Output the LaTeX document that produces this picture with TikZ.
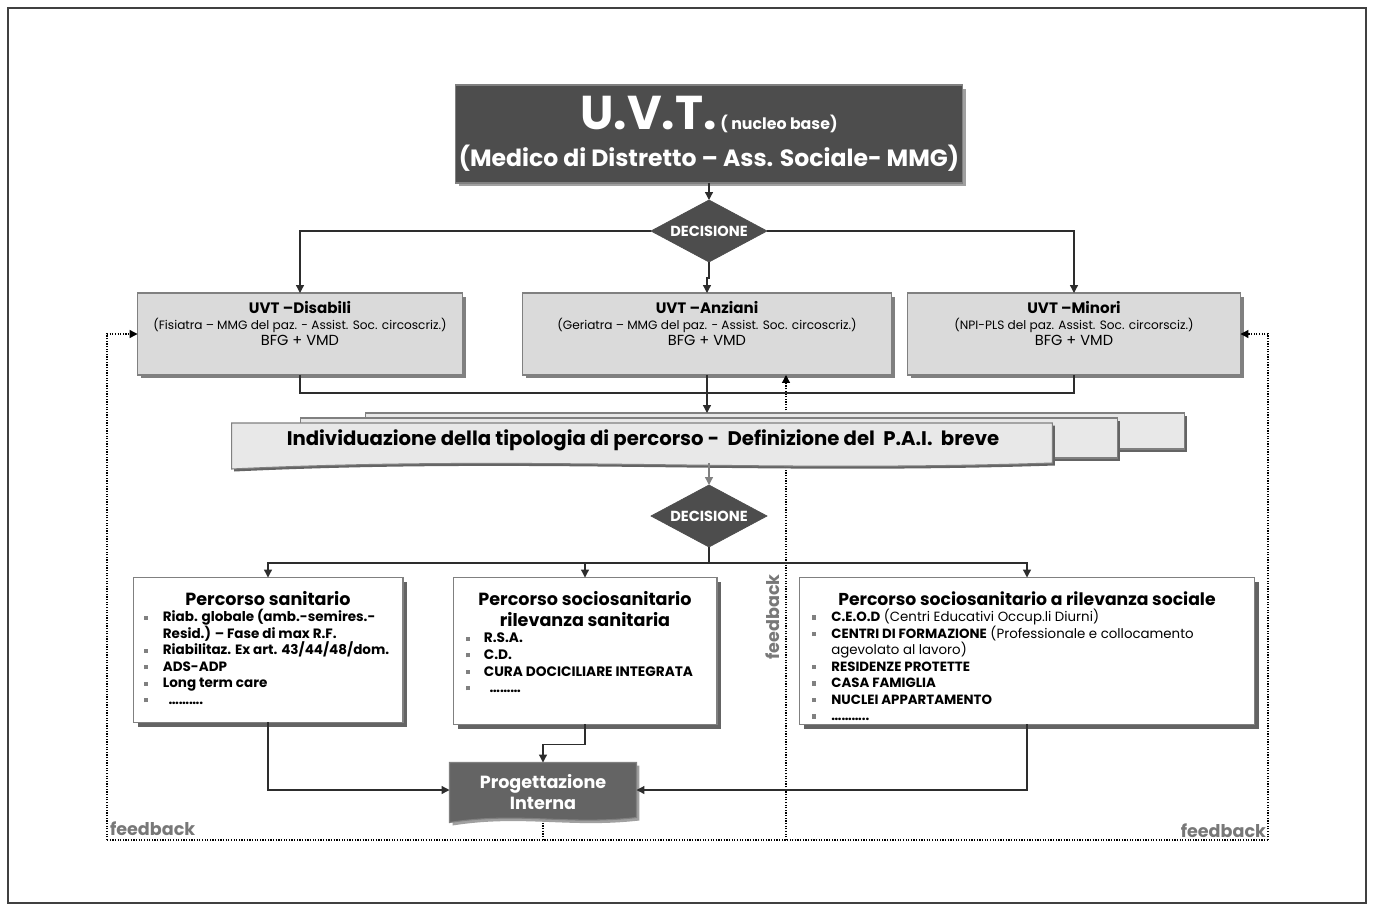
\documentclass[tikz,border=0pt]{standalone}
\usepackage{fontspec}
\setmainfont{Poppins}
\usepackage{xcolor}
\definecolor{darkfill}{RGB}{77, 77, 77}
\definecolor{progfill}{RGB}{100, 100, 100}
\definecolor{lightfill}{RGB}{218, 218, 218}
\definecolor{bannerfill}{RGB}{232, 232, 232}
\definecolor{edgegray}{RGB}{128, 128, 128}
\definecolor{shadowgray}{RGB}{100, 100, 100}
\definecolor{lightshadow}{RGB}{160, 160, 160}
\definecolor{linegray}{RGB}{45, 45, 45}
\definecolor{fbgray}{RGB}{120, 120, 120}
\usepackage{tikz}
\usetikzlibrary{calc,shapes.geometric,shadows,arrows.meta}

% small grey square before each list entry
\newcommand\pitem[2]{\par\noindent\hangindent=#1\hangafter=1%
  \makebox[#1][l]{\textcolor{edgegray}{\rule[0.15em]{2.4pt}{2.4pt}}}#2}

\begin{document}
\begin{tikzpicture}[
  x = 0.02cm, y = -0.02cm,
  every node/.style = {inner sep=0pt, outer sep=0pt},
  conn/.style  = {draw=linegray, line width=0.7pt},
  arr/.style   = {conn, -{Triangle[length=4.5pt, width=4.5pt]}},
  fb/.style    = {draw=black, line width=0.7pt, dash pattern=on 0.7pt off 0.8pt},
  fbarr/.style = {fb, -{Triangle[length=4.5pt, width=4.5pt]}},
  fbtext/.style = {text=fbgray, font=\bfseries\fontsize{10}{12}\selectfont},
  uvtbox/.style = {
    fill        = darkfill,
    draw        = edgegray,
    line width  = 0.6pt,
    text        = white,
    font        = \bfseries,
    align       = center,
    general shadow = {fill=lightshadow, shadow xshift=0.07cm, shadow yshift=-0.07cm}
  },
  decision/.style = {
    diamond,
    aspect      = 1.9,
    fill        = darkfill,
    draw        = darkfill,
    text        = white,
    font        = \bfseries\fontsize{8.3}{9}\selectfont,
    minimum width  = 2.32cm,
    minimum height = 1.24cm
  },
  greybox/.style = {
    fill        = lightfill,
    draw        = edgegray,
    line width  = 0.6pt,
    minimum height = 1.64cm,
    general shadow = {fill=edgegray, shadow xshift=0.07cm, shadow yshift=-0.07cm}
  },
  whitebox/.style = {
    fill        = white,
    draw        = edgegray,
    line width  = 0.6pt,
    general shadow = {fill=shadowgray, shadow xshift=0.09cm, shadow yshift=-0.09cm}
  },
  banner/.style = {
    fill        = bannerfill,
    draw        = edgegray,
    line width  = 0.6pt,
    general shadow = {fill=shadowgray, shadow xshift=0.05cm, shadow yshift=-0.05cm}
  }
]
  \useasboundingbox (0,0) rectangle (1373,910);
  \draw[edgegray!50!black, line width=1pt] (8,8) rectangle (1366,903);

  % top: U.V.T. and first decision
  \node[uvtbox, minimum width=10.16cm, minimum height=1.96cm] (uvt) at (709,134)
    {{\fontsize{27}{28}\selectfont U.V.T.} {\fontsize{9}{10}\selectfont ( nucleo base)}\\[6pt]
     {\fontsize{13.4}{15}\selectfont (Medico di Distretto – Ass. Sociale- MMG)}};
  \node[decision] (dec1) at (709,231) {DECISIONE};

  % the three UVT
  \node[greybox, minimum width=6.5cm] (dis) at (300,334)
    {\parbox[c][1.5cm][t]{6.4cm}{\centering\fontsize{8}{9.3}\selectfont\vspace{2.5pt}
      {\bfseries\fontsize{8.6}{9}\selectfont UVT –Disabili}\\
      {\fontsize{6.9}{8}\selectfont (Fisiatra – MMG del paz. - Assist. Soc. circoscriz.)}\\
      {\fontsize{8.3}{9}\selectfont BFG + VMD}}};
  \node[greybox, minimum width=7.4cm] (anz) at (707,334)
    {\parbox[c][1.5cm][t]{7.2cm}{\centering\fontsize{8}{9.3}\selectfont\vspace{2.5pt}
      {\bfseries\fontsize{8.6}{9}\selectfont UVT –Anziani}\\
      {\fontsize{6.9}{8}\selectfont (Geriatra – MMG del paz. - Assist. Soc. circoscriz.)}\\
      {\fontsize{8.3}{9}\selectfont BFG + VMD}}};
  \node[greybox, minimum width=6.66cm] (min) at (1074,334)
    {\parbox[c][1.5cm][t]{6.4cm}{\centering\fontsize{8}{9.3}\selectfont\vspace{2.5pt}
      {\bfseries\fontsize{8.6}{9}\selectfont UVT –Minori}\\
      {\fontsize{6.9}{8}\selectfont (NPI-PLS del paz. Assist. Soc. circorsciz.)}\\
      {\fontsize{8.3}{9}\selectfont BFG + VMD}}};

  \draw[arr] (uvt.south) -- (dec1.north);
  \draw[arr] (dec1.west) -| (dis.north);
  \draw[arr] (dec1.east) -| (min.north);
  \draw[arr] (dec1.south) -- ++(0,16) -| (anz.north);

  % feedback loop (behind everything else)
  \coordinate (fbl) at (107,840);
  \coordinate (fbr) at (1268,840);
  \coordinate (fbm) at (786,840);
  \draw[fb] (fbl) -- (fbr);
  \draw[fbarr] (fbl) |- (dis.west);
  \draw[fbarr] (fbr) |- (min.east);
  \draw[fbarr] (fbm) -- (fbm |- anz.south);

  % P.A.I. banners
  \node[banner, minimum width=16.4cm, minimum height=0.72cm] (paiback) at (775,431) {};
  \node[banner, minimum width=16.36cm, minimum height=0.8cm] (paimid) at (709,438) {};
  \node[minimum width=16.42cm, minimum height=0.8cm] (pai) at (642,443) {};
  \path[banner] (pai.north west) -- (pai.north east) -- (pai.south east)
    .. controls ($(pai.south east)+(-300,10)$) and ($(pai.south west)+(300,-8)$)
    .. ($(pai.south west)+(0,6)$) -- cycle;
  \node[font=\bfseries\fontsize{11.2}{13}\selectfont] (paitext) at (643,440)
    {Individuazione della tipologia di percorso -~ Definizione del~ P.A.I.~ breve};

  \coordinate (join1) at (707,393);
  \draw[conn] (dis.south) |- (join1) -| (min.south);
  \draw[conn] (anz.south) -- (join1);
  \draw[arr] (join1) -- (join1 |- paiback.north);

  % second decision and the three paths
  \node[decision] (dec2) at (709,516) {DECISIONE};
  \draw[arr, draw=edgegray] (dec2.north |- pai.south) -- (dec2.north);

  \node[whitebox, minimum width=5.4cm, minimum height=2.9cm] (ps) at (268,650)
    {\parbox[c][2.7cm][t]{4.98cm}{\centering\vspace{5pt}
      {\bfseries\fontsize{10}{11}\selectfont Percorso sanitario}\par
      \raggedright\bfseries\fontsize{7.7}{9.4}\selectfont
      \pitem{11pt}{Riab. globale (amb.-semires.-\newline Resid.) – Fase di max R.F.}
      \pitem{11pt}{Riabilitaz. Ex art. 43/44/48/dom.}
      \pitem{11pt}{ADS-ADP}
      \pitem{11pt}{Long term care}
      \pitem{11pt}{\ \ ……….}}};
  \node[whitebox, minimum width=5.28cm, minimum height=2.94cm] (pss) at (585,651)
    {\parbox[c][2.74cm][t]{4.75cm}{\centering\vspace{5pt}
      {\bfseries\fontsize{10}{11}\selectfont Percorso sociosanitario\\ rilevanza sanitaria}\par
      \raggedright\bfseries\fontsize{7.8}{9.4}\selectfont
      \pitem{10pt}{R.S.A.}
      \pitem{10pt}{C.D.}
      \pitem{10pt}{CURA DOCICILIARE INTEGRATA}
      \pitem{10pt}{\ \ ………}}};
  \node[whitebox, minimum width=9.1cm, minimum height=2.94cm] (psr) at (1027,651)
    {\parbox[c][2.74cm][t]{8.6cm}{\centering\vspace{5pt}
      {\bfseries\fontsize{9.8}{11}\selectfont Percorso sociosanitario a rilevanza sociale}\par
      \raggedright\fontsize{7.6}{9.4}\selectfont
      \pitem{11pt}{\textbf{C.E.O.D} (Centri Educativi Occup.li Diurni)}
      \pitem{11pt}{\textbf{CENTRI DI FORMAZIONE} (Professionale e collocamento\newline agevolato al lavoro)}
      \pitem{11pt}{\textbf{RESIDENZE PROTETTE}}
      \pitem{11pt}{\textbf{CASA FAMIGLIA}}
      \pitem{11pt}{\textbf{NUCLEI APPARTAMENTO}}
      \pitem{11pt}{\textbf{………..}}}};

  \coordinate (join2) at (709,563);
  \draw[conn] (dec2.south) -- (join2);
  \draw[arr] (join2) -| (ps.north);
  \draw[arr] (join2) -| (psr.north);
  \draw[arr] (pss.north |- join2) -- (pss.north);

  % Progettazione Interna
  \node[minimum width=3.74cm, minimum height=1.1cm] (prog) at (543,790) {};
  \draw[fb] (prog.south) -- (prog.south |- fbl);
  \path[fill=progfill, draw=edgegray, line width=0.6pt,
        general shadow={fill=lightshadow, shadow xshift=0.06cm, shadow yshift=-0.06cm}]
    (prog.north west) -- (prog.north east) -- (prog.south east)
    .. controls ($(prog.south east)+(-70,8)$) and ($(prog.south west)+(70,-6)$)
    .. ($(prog.south west)+(0,5)$) -- cycle;
  \node[text=white, align=center, font=\bfseries\fontsize{10}{12}\selectfont] (progtext) at (543,792)
    {Progettazione\\ Interna};

  \draw[arr] (ps.south) |- (prog.west);
  \draw[arr] (psr.south) |- (prog.east);
  \draw[arr] (pss.south) -- ++(0,20) -| (prog.north);

  % feedback labels
  \node[fbtext, anchor=south west] (fbleft) at (110,836) {feedback};
  \node[fbtext, anchor=south east] (fbright) at (1266,838) {feedback};
  \node[fbtext, rotate=90] (fbmid) at (773,617) {feedback};
\end{tikzpicture}
\end{document}
